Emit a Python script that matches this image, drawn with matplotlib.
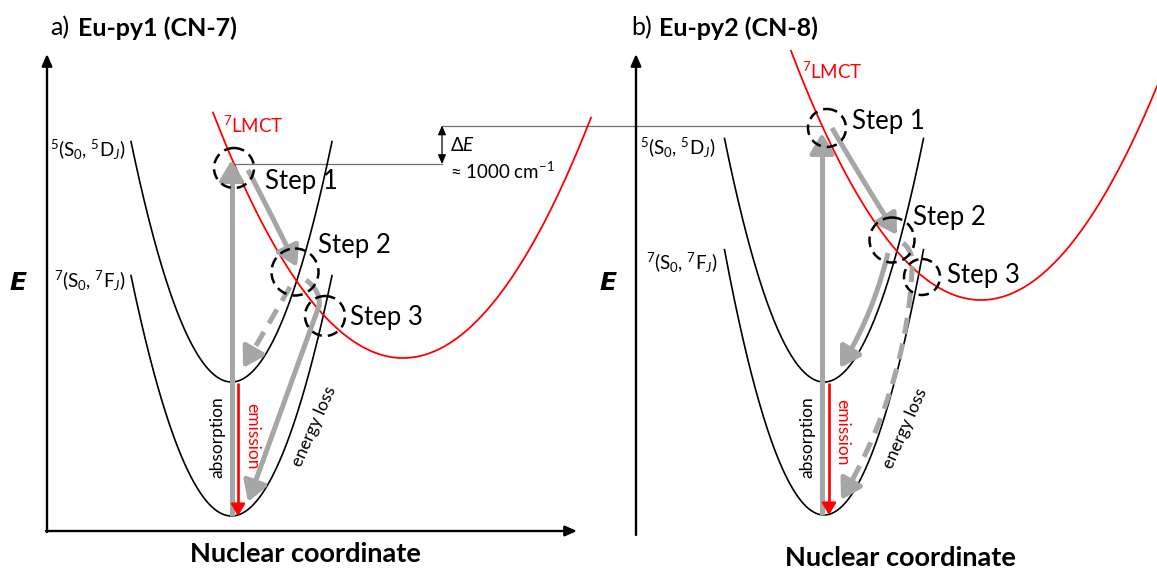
"""Configurational coordinate diagrams for Eu-py1 / Eu-py2 (schematic)"""

import numpy as np
import matplotlib.pyplot as plt
from matplotlib.patches import FancyArrowPatch, Circle

plt.rcParams['font.family'] = ['Lato', 'DejaVu Sans']
plt.rcParams['mathtext.fontset'] = 'custom'
plt.rcParams['mathtext.rm'] = 'Lato'
plt.rcParams['mathtext.it'] = 'Lato:italic'
plt.rcParams['mathtext.bf'] = 'Lato:bold'

# --- data: potential wells, E = e0 - k (q - q0)^2 in the picture frame ---
prefixes = ['a)', 'b)']
titles = ['Eu-py1 (CN-7)', 'Eu-py2 (CN-8)']
# 5(S0, 5DJ) excited well
ex_q0 = [231.5, 824.0]
ex_e0 = [382.0, 382.0]
ex_k = [0.0238, 0.0246]
ex_half = [100.5, 99.5]
# 7(S0, 7FJ) ground well
gs_q0 = [231.5, 824.0]
gs_e0 = [516.0, 515.0]
gs_k = [0.0238, 0.0268]
gs_half = [100.5, 99.5]
# 7LMCT well
ct_q0 = [403.0, 981.0]
ct_e0 = [358.0, 300.0]
ct_k = [0.0068, 0.0069]
ct_lo = [213.0, 791.0]
ct_hi = [591.0, 1157.0]
# crossing points (circled)
step_x = [[234, 295, 325], [827, 892, 922]]
step_y = [[168, 272, 316], [128, 240, 277]]
step_r = [[20, 23.5, 20], [19, 22.5, 18]]
delta_e = '≈ 1000 cm$^{-1}$'

W, H = 1157, 568
GRAY = '#a6a6a6'
RED = '#ff0000'

fig = plt.figure(figsize=(W / 100, H / 100), dpi=100)
ax = fig.add_axes([0, 0, 1, 1])
ax.set_xlim(0, W)
ax.set_ylim(H, 0)
ax.axis('off')


def well(q0, e0, k, lo, hi):
    q = np.linspace(lo, hi, 400)
    return q, e0 - k * (q - q0) ** 2


def bez(p0, p1, p2, n=60):
    t = np.linspace(0, 1, n)[:, None]
    p0, p1, p2 = map(np.asarray, (p0, p1, p2))
    return (1 - t) ** 2 * p0 + 2 * (1 - t) * t * p1 + t ** 2 * p2


def arrow(pts, color=GRAY, lw=3.6, dashed=False, hl=0.6, hw=0.36, ms=20):
    pts = np.asarray(pts, float)
    if len(pts) == 2:
        pts = np.column_stack([np.linspace(pts[0, 0], pts[1, 0], 60),
                               np.linspace(pts[0, 1], pts[1, 1], 60)])
    # cut the shaft where the head begins
    seg = np.hypot(*np.diff(pts, axis=0).T)
    back = np.cumsum(seg[::-1])
    head_px = hl * ms * 1.389
    m = np.searchsorted(back, head_px) + 1
    base = pts[-m - 1]
    ls = (0, (3.2, 2.0)) if dashed else '-'
    ax.plot(pts[:-m, 0], pts[:-m, 1], color=color, lw=lw, ls=ls,
            solid_capstyle='butt', dash_capstyle='butt', zorder=4)
    ax.add_patch(FancyArrowPatch(tuple(base), tuple(pts[-1]),
                                 arrowstyle=f'-|>,head_length={hl},head_width={hw}',
                                 mutation_scale=ms, lw=lw, color=color,
                                 shrinkA=0, shrinkB=0, zorder=4))


# --- coordinate frames ---
frame_x = [47, 636]
frame_top = [54, 54]
frame_bot = [531, 534]
frame_right = [577, 1160]
for i in range(2):
    ax.annotate('', xy=(frame_x[i], frame_top[i]), xytext=(frame_x[i], frame_bot[i] + 1),
                arrowprops=dict(arrowstyle='-|>,head_length=0.5,head_width=0.22',
                                lw=1.7, color='black', shrinkA=0, shrinkB=0,
                                mutation_scale=14))
    ax.annotate('', xy=(frame_right[i], frame_bot[i]), xytext=(frame_x[i] - 1, frame_bot[i]),
                arrowprops=dict(arrowstyle='-|>,head_length=0.5,head_width=0.22',
                                lw=1.7, color='black', shrinkA=0, shrinkB=0,
                                mutation_scale=14))

# --- wells ---
for i in range(2):
    q, e = well(ex_q0[i], ex_e0[i], ex_k[i], ex_q0[i] - ex_half[i], ex_q0[i] + ex_half[i])
    ax.plot(q, e, color='black', lw=1.2, zorder=2)
    q, e = well(gs_q0[i], gs_e0[i], gs_k[i], gs_q0[i] - gs_half[i], gs_q0[i] + gs_half[i])
    ax.plot(q, e, color='black', lw=1.2, zorder=2)
    q, e = well(ct_q0[i], ct_e0[i], ct_k[i], ct_lo[i], ct_hi[i])
    ax.plot(q, e, color=RED, lw=1.3, zorder=3)

# --- energy gap reference ---
ax.plot([232, 442], [163.5, 163.5], color='#707070', lw=0.9, zorder=1)
ax.plot([442, 822], [126, 126], color='#707070', lw=0.9, zorder=1)
ax.annotate('', xy=(442, 125.5), xytext=(442, 164),
            arrowprops=dict(arrowstyle='<|-|>,head_length=0.5,head_width=0.22',
                            lw=0.9, color='black', shrinkA=0, shrinkB=0,
                            mutation_scale=11))
ax.text(450, 145, r'$\Delta E$', fontsize=13.5, va='center', ha='left')
ax.text(450, 171, delta_e, fontsize=13.5, va='center', ha='left')

# --- transitions, panel a ---
arrow([(231.5, 516), (231.5, 160)])
arrow([(238, 383), (238, 516)], color=RED, lw=1.9, hl=0.5, hw=0.3, ms=14)
arrow(bez((248, 170), (270, 212), (297, 267)))
arrow([(290, 287), (243, 368)], dashed=True)
arrow(np.vstack([bez((306, 280), (321, 291), (319, 306)), [(248, 502)]]))

# --- transitions, panel b ---
arrow([(822, 515), (822, 133)])
arrow([(829, 383), (829, 515)], color=RED, lw=1.9, hl=0.5, hw=0.3, ms=14)
arrow(bez((832, 128), (860, 176), (897, 235)))
arrow(bez((888, 253), (872, 318), (840, 368)))
arrow(np.vstack([bez((903, 243), (914, 252), (912, 268)),
                 bez((912, 270), (906, 390), (841, 500))]), dashed=True)

# --- circles and step labels ---
step_tx = [[265, 318, 350], [852, 913, 947]]
step_ty = [[182, 246, 317], [122, 218, 275]]
for i in range(2):
    for j in range(3):
        ax.add_patch(Circle((step_x[i][j], step_y[i][j]), step_r[i][j], fill=False,
                            ec='black', lw=1.8, ls=(0, (4.2, 2.4)), zorder=5))
        ax.text(step_tx[i][j], step_ty[i][j], f'Step {j + 1}', fontsize=18.5,
                ha='left', va='center', zorder=6)

# --- labels ---
title_x = [50, 631]
bold_x = [78, 659]
e_x = [18, 608]
ex_lab = [(126, 150), (716, 148)]
gs_lab = [(126, 281), (718, 263)]
ct_lab = [(223, 125), (802, 71)]
abs_lab = [(217, 437), (807, 437)]
emi_lab = [(252, 436), (842, 432)]
los_lab = [(314, 426), (905, 428)]
nc_lab = [(305, 554), (900, 558)]
for i in range(2):
    ax.text(title_x[i], 28, prefixes[i], fontsize=18, ha='left', va='center')
    ax.text(bold_x[i], 28, titles[i], fontsize=18, fontweight='bold', ha='left', va='center')
    ax.text(e_x[i], 282, r'$\mathbfit{E}$', fontsize=18, ha='center', va='center')
    ax.text(*ex_lab[i], r'$^5$(S$_0$, $^5$D$_J$)', fontsize=13.5, ha='right', va='center')
    ax.text(*gs_lab[i], r'$^7$(S$_0$, $^7$F$_J$)', fontsize=13.5, ha='right', va='center')
    ax.text(*ct_lab[i], r'$^7$LMCT', fontsize=13.5, color=RED, ha='left', va='center')
    ax.text(*abs_lab[i], 'absorption', fontsize=12.5, rotation=90, ha='center', va='center')
    ax.text(*emi_lab[i], 'emission', fontsize=12.5, rotation=-90, color=RED,
            ha='center', va='center')
    ax.text(*los_lab[i], 'energy loss', fontsize=12.5, rotation=66, ha='center', va='center')
    ax.text(*nc_lab[i], 'Nuclear coordinate', fontsize=19.5, fontweight='bold',
            ha='center', va='center')

fig.savefig('out.png', dpi=100)
